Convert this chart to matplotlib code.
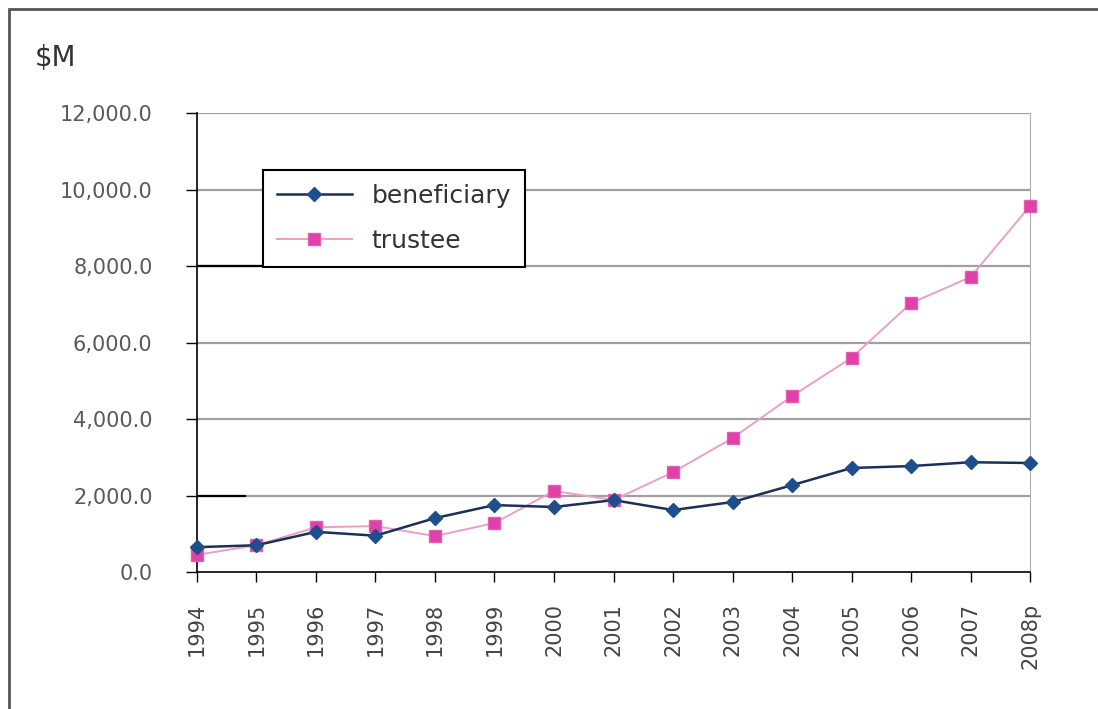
import matplotlib.pyplot as plt
from matplotlib.patches import Rectangle
from matplotlib.ticker import FuncFormatter

years = ["1994", "1995", "1996", "1997", "1998", "1999", "2000", "2001",
         "2002", "2003", "2004", "2005", "2006", "2007", "2008p"]
beneficiary = [650, 700, 1050, 950, 1410, 1750, 1700, 1880,
               1620, 1830, 2270, 2720, 2770, 2870, 2850]
trustee = [450, 700, 1170, 1200, 940, 1280, 2120, 1880,
           2610, 3500, 4600, 5600, 7030, 7710, 9570]
y_ticks = [0, 2000, 4000, 6000, 8000, 10000, 12000]

plt.rcParams['font.family'] = ['DejaVu Sans']

fig = plt.figure(figsize=(10.98, 7.09), dpi=100)
ax = fig.add_axes([0.1794, 0.1932, 0.7587, 0.6474])

x = list(range(len(years)))

# gridlines
for t in y_ticks[1:]:
    ax.axhline(t, color="#a0a0a0", lw=1.6, zorder=1)
# black bits of the scan
ax.axhline(8000, xmax=0.08, color="black", lw=1.6, zorder=2)
ax.axhline(2000, xmax=0.058, color="black", lw=1.6, zorder=2)

ax.plot(x, beneficiary, color="#1d2f55", lw=1.8, marker="D", ms=7,
        mfc="#1f4e8c", mec="#1f4e8c", label="beneficiary", zorder=4, clip_on=False)
ax.plot(x, trustee, color="#e8a0c8", lw=1.4, marker="s", ms=8.5,
        mfc="#e040a8", mec="#e060b0", label="trustee", zorder=3, clip_on=False)

ax.set_xlim(0, len(years) - 1)
ax.set_ylim(0, 12000)
ax.set_yticks(y_ticks)
ax.yaxis.set_major_formatter(FuncFormatter(lambda v, p: "{:,.1f}".format(v)))
ax.set_xticks(x)
ax.set_xticklabels(years, rotation=90)

ax.tick_params(axis="y", direction="out", length=8, width=1, pad=24,
               labelsize=15, labelcolor="#5a5a5a")
ax.tick_params(axis="x", direction="out", length=7, width=1, pad=15,
               labelsize=15, labelcolor="#444444")

ax.spines["left"].set_color("black")
ax.spines["bottom"].set_color("black")
ax.spines["left"].set_linewidth(1.2)
ax.spines["bottom"].set_linewidth(1.2)
ax.spines["right"].set_color("#b0b0b0")
ax.spines["top"].set_visible(False)

leg = ax.legend(loc="upper left", bbox_to_anchor=(0.079, 0.876), fontsize=18,
                frameon=True, fancybox=False, framealpha=1, edgecolor="black",
                handlelength=3.0, labelspacing=0.85, borderpad=0.55,
                borderaxespad=0, handletextpad=0.8)
leg.get_frame().set_linewidth(1.5)
for t in leg.get_texts():
    t.set_color("#333333")

fig.text(0.032, 0.918, "$M", fontsize=20, color="#333333", ha="left", va="center")

# outer frame of the scanned chart
fig.add_artist(Rectangle((0.008, -0.1), 1.2, 1.087, transform=fig.transFigure,
                         fill=False, edgecolor="#555555", lw=2))

fig.savefig("out.png", dpi=100)
